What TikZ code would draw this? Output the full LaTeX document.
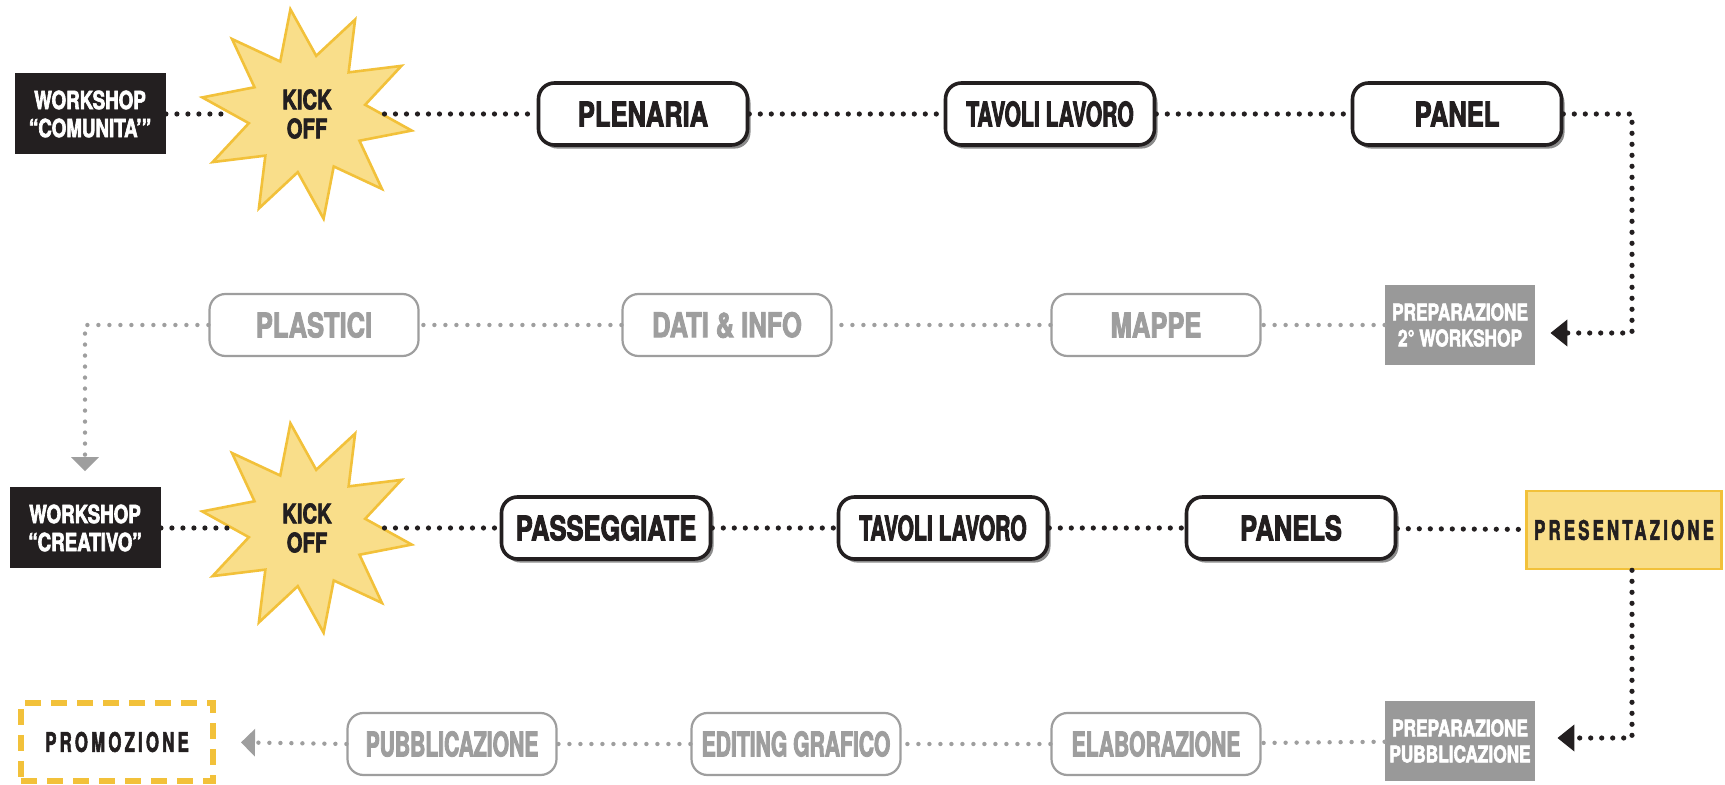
\documentclass[tikz,border=0pt]{standalone}
\usepackage{fontspec}
\setmainfont{TeX Gyre Heros}[FakeStretch=0.75,BoldFeatures={FakeBold=2.5}]
\newfontfamily\narrowfont{TeX Gyre Heros}[FakeStretch=0.62,BoldFeatures={FakeBold=2.5}]
\newfontfamily\spacedfont{TeX Gyre Heros}[FakeStretch=0.62,LetterSpace=12,BoldFeatures={FakeBold=2}]
\usetikzlibrary{shapes.geometric,shadows,arrows.meta}
\definecolor{inkblack}{HTML}{231F20}
\definecolor{fadegrey}{HTML}{9E9E9E}
\definecolor{prepgrey}{HTML}{999999}
\definecolor{starfill}{HTML}{F9DE8A}
\definecolor{stargold}{HTML}{F2C13A}
\begin{document}
\begin{tikzpicture}
	[x=0.5pt, y=-0.5pt,
	every node/.style = {align=center, inner sep=0pt},
	stepbox/.style = {draw=inkblack, line width=1.8pt, rounded corners=8pt, fill=white, text=inkblack, minimum width=104.5pt, minimum height=31pt, font=\bfseries\fontsize{17}{19}\selectfont, drop shadow={shadow xshift=1.5pt, shadow yshift=-1.8pt, fill=black, opacity=0.45}},
	tightbox/.style = {stepbox, font=\narrowfont\bfseries\fontsize{17}{19}\selectfont},
	ghostbox/.style = {draw=fadegrey, line width=1.1pt, rounded corners=8pt, fill=white, text=fadegrey, minimum width=104.5pt, minimum height=31pt, font=\bfseries\fontsize{17}{19}\selectfont},
	thinghost/.style = {ghostbox, font=\narrowfont\bfseries\fontsize{17}{19}\selectfont},
	darkbox/.style = {fill=inkblack, text=white, minimum width=75.5pt, minimum height=40.5pt, font=\bfseries\fontsize{12.5}{14}\selectfont},
	prepbox/.style = {fill=prepgrey, text=white, minimum width=75pt, minimum height=40pt, font=\bfseries\fontsize{11.5}{13}\selectfont},
	kickoff/.style = {star, star points=10, star point ratio=1.8, shape border rotate=9, minimum size=106pt, fill=starfill, draw=stargold, line width=1.3pt, text=inkblack, font=\bfseries\fontsize{13.5}{14.5}\selectfont},
	showbox/.style = {fill=starfill, draw=stargold, line width=1.3pt, minimum width=97.5pt, minimum height=39pt, text=inkblack, font=\spacedfont\bfseries\fontsize{13.5}{15}\selectfont},
	promobox/.style = {draw=stargold, line width=3pt, dash pattern=on 8pt off 5pt, minimum width=96pt, minimum height=39pt, text=inkblack, font=\spacedfont\bfseries\fontsize{13.5}{15}\selectfont},
	dotline/.style = {draw=inkblack, line width=2.6pt, line cap=round, dash pattern=on 0pt off 5.5pt},
	fadeline/.style = {dotline, draw=fadegrey, line width=2.2pt},
	blacktip/.style = {-{Triangle[length=8.5pt, width=13pt]}},
	greytip/.style = {-{Triangle[length=7pt, width=13.5pt, fill=fadegrey]}}]
	\useasboundingbox (0,0) rectangle (1725,785);
	\node[darkbox] (ws1) at (90,114) {WORKSHOP\\“COMUNITA’”};
	\node[kickoff] (k1) at (307,114) {KICK\\OFF};
	\node[stepbox] (plenaria) at (643,114) {PLENARIA};
	\node[tightbox] (tavoli1) at (1050,114) {TAVOLI LAVORO};
	\node[stepbox] (panel) at (1457,114) {PANEL};
	\node[prepbox] (prep1) at (1460,325) {PREPARAZIONE\\2° WORKSHOP};
	\node[ghostbox] (mappe) at (1156,325) {MAPPE};
	\node[ghostbox] (dati) at (727,325) {DATI \& INFO};
	\node[ghostbox] (plastici) at (314,325) {PLASTICI};
	\node[darkbox] (ws2) at (85,528) {WORKSHOP\\“CREATIVO”};
	\node[kickoff] (k2) at (307,528) {KICK\\OFF};
	\node[stepbox] (passeggiate) at (606,528) {PASSEGGIATE};
	\node[tightbox] (tavoli2) at (943,528) {TAVOLI LAVORO};
	\node[stepbox] (panels) at (1291,528) {PANELS};
	\node[showbox] (pres) at (1624,530) {PRESENTAZIONE};
	\node[prepbox] (prep2) at (1460,741) {PREPARAZIONE\\PUBBLICAZIONE};
	\node[thinghost] (elaborazione) at (1156,744) {ELABORAZIONE};
	\node[thinghost] (editing) at (796,744) {EDITING GRAFICO};
	\node[thinghost] (pubblicazione) at (452,744) {PUBBLICAZIONE};
	\node[promobox] (promozione) at (117,742) {PROMOZIONE};
	\coordinate (bendA) at (1632,333);
	\coordinate (bendB) at (1632,738);
	\draw[dotline] (ws1) -- (k1) -- (plenaria) -- (tavoli1) -- (panel);
	\draw[dotline, blacktip, shorten >=7.5pt] (panel.east) -| (bendA) -- (bendA -| prep1.east);
	\draw[fadeline] (prep1) -- (mappe) -- (dati) -- (plastici);
	\draw[fadeline, greytip, shorten >=8pt] (plastici.west) -| (ws2.north);
	\draw[dotline] (ws2) -- (k2) -- (passeggiate) -- (tavoli2) -- (panels) -- (pres);
	\draw[dotline, blacktip, shorten >=11pt] (pres.south -| bendB) -- (bendB) -- (bendB -| prep2.east);
	\draw[fadeline] (prep2) -- (elaborazione) -- (editing) -- (pubblicazione);
	\draw[fadeline, greytip, shorten >=12.5pt] (pubblicazione.west) -- (promozione.east);
\end{tikzpicture}
\end{document}
